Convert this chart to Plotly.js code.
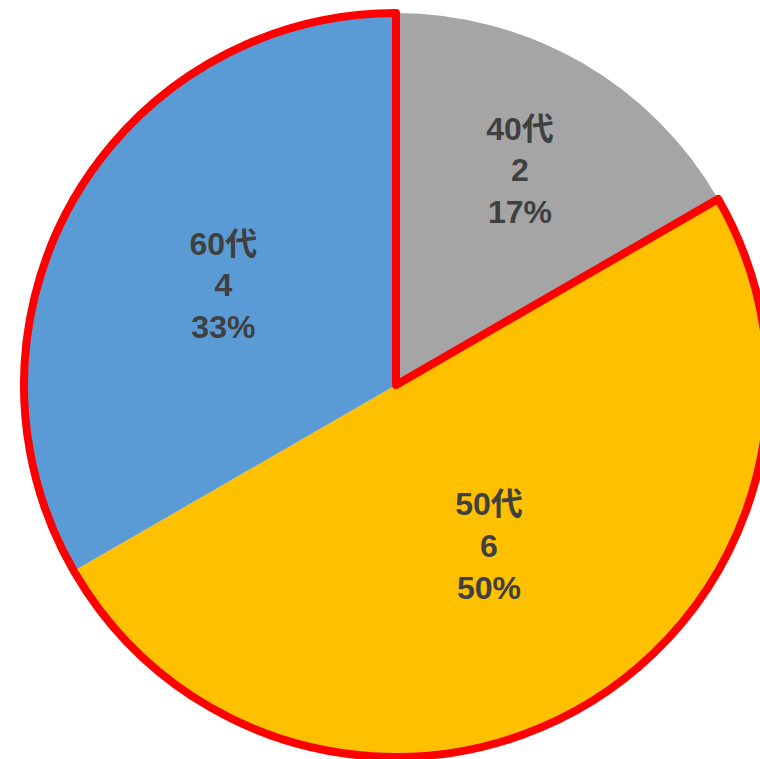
<!DOCTYPE html>
<html>
<head>
<meta charset="utf-8">
<script src="https://cdn.plot.ly/plotly-3.0.1.min.js"></script>
<style>
html, body { margin: 0; padding: 0; overflow: hidden; background: #ffffff; }
#chart { width: 800px; height: 780px; }
</style>
</head>
<body>
<div id="chart"></div>
<script>
const categories = ['40代', '50代', '60代'];
const counts = [2, 6, 4];
const sliceColors = ['#A5A5A5', '#FFC000', '#5B9BD5'];
// red outline groups: 40代 alone (no outline), 50代+60代 together (outlined)
const outlineGroups = ['40代', '50代+60代'];
const outlineValues = [counts[0], counts[1] + counts[2]];

const domain = { x: [0.03, 0.96], y: [0.0295, 0.9833] };

const base = {
  type: 'pie',
  sort: false,
  direction: 'clockwise',
  rotation: 0,
  domain: domain,
  hoverinfo: 'skip'
};

const mainTrace = Object.assign({}, base, {
  labels: categories,
  values: counts,
  marker: { colors: sliceColors, line: { width: 0 } },
  texttemplate: '%{label}<br>%{value}<br>%{percent:.0%}',
  textposition: 'inside',
  insidetextorientation: 'horizontal',
  textfont: { family: 'Liberation Sans, Arial, "Noto Sans CJK JP", sans-serif', size: 32, color: '#404040', weight: 'bold' }
});

const outlineTrace = Object.assign({}, base, {
  labels: outlineGroups,
  values: outlineValues,
  marker: {
    colors: ['rgba(0,0,0,0)', 'rgba(0,0,0,0)'],
    line: { color: ['rgba(0,0,0,0)', '#FF0000'], width: [0, 8] }
  },
  textinfo: 'none'
});

const layout = {
  width: 800,
  height: 780,
  margin: { l: 0, r: 0, t: 0, b: 0 },
  showlegend: false,
  paper_bgcolor: '#ffffff',
  plot_bgcolor: '#ffffff'
};

Plotly.newPlot('chart', [mainTrace, outlineTrace], layout, { displayModeBar: false, staticPlot: true });
</script>
</body>
</html>
